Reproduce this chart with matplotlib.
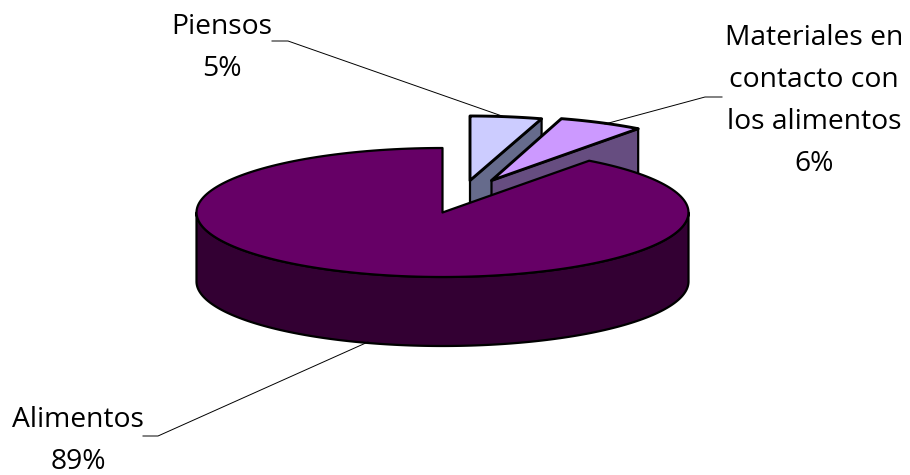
import numpy as np
import matplotlib
matplotlib.use("Agg")
import matplotlib.pyplot as plt
from matplotlib.patches import Polygon

labels = ["Piensos", "Materiales en\ncontacto con\nlos alimentos", "Alimentos"]
percent_text = ["5%", "6%", "89%"]
# shares as drawn in the picture (the printed labels are rounded)
values = [4.7, 5.6, 89.7]
top_colors = ["#ccccff", "#cc99ff", "#660066"]
side_colors = ["#666b8c", "#664d80", "#330033"]

CX, CY = 442.5, 212.5
RX, RY = 246, 64.5
DEPTH = 69
LW = 1.6

# pixel shift of each exploded slice
shift = [(27.5, -32), (49, -32), (0, 0)]
label_pos = [(222, 48), (814, 101), (78, 441)]
leaders = [[(272, 41), (288, 41), (502, 116)],
           [(722, 97), (705, 97), (605, 124)],
           [(143, 436), (158, 436), (368, 342)]]


def arc(t0, t1, cx, cy):
    t = np.radians(np.linspace(t0, t1, 200))
    return np.column_stack([cx + RX*np.sin(t), cy - RY*np.cos(t)])


fig = plt.figure(figsize=(9.1, 4.75), dpi=100)
ax = fig.add_axes([0, 0, 1, 1])
ax.set_xlim(0, 910)
ax.set_ylim(475, 0)
ax.axis("off")

angles = np.concatenate([[0], np.cumsum(values)]) * 3.6
angles[2] = 36.6  # Materiales and Alimentos meet here

# the two small slices first, the big one hides their lower part
for i in [0, 1]:
    cx, cy = CX + shift[i][0], CY + shift[i][1]
    a = arc(angles[i] if i == 0 else 16.5, angles[i+1], cx, cy)
    apex = np.array([cx, cy])
    end = a[-1]
    side = [apex, end, end + [0, DEPTH], apex + [0, DEPTH]]
    ax.add_patch(Polygon(side, fc=side_colors[i], ec="black", lw=LW, joinstyle="round"))
    ax.add_patch(Polygon(np.vstack([apex, a]), fc=top_colors[i], ec="black", lw=LW+0.5,
                         joinstyle="round"))

# big slice: wall then top
low = arc(90, 270, CX, CY)
wall = np.vstack([low, (low + [0, DEPTH])[::-1]])
ax.add_patch(Polygon(wall, fc=side_colors[2], ec="black", lw=LW, joinstyle="round"))
top = np.vstack([[CX, CY], arc(angles[2], 360, CX, CY)])
ax.add_patch(Polygon(top, fc=top_colors[2], ec="black", lw=LW, joinstyle="round"))

for pts in leaders:
    xs, ys = zip(*pts)
    ax.plot(xs, ys, color="black", lw=0.7)

for name, pct, pos in zip(labels, percent_text, label_pos):
    ax.text(pos[0], pos[1], name + "\n" + pct, ha="center", va="center",
            multialignment="center", family="Open Sans", fontsize=20.3, linespacing=1.68,
            color="black")

fig.savefig("out.png", dpi=100)
